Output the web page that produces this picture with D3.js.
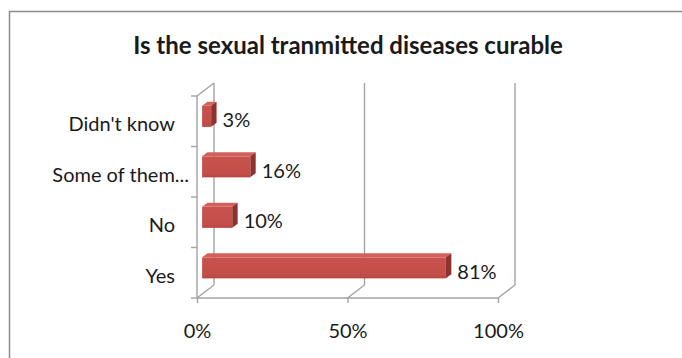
<!DOCTYPE html>
<html>
<head>
<meta charset="utf-8">
<script src="https://cdn.jsdelivr.net/npm/d3@7"></script>
<style>
  html, body { margin: 0; padding: 0; background: #fff; }
  svg { display: block; }
  text { font-family: Lato, "Open Sans", sans-serif; fill: #1a1a1a; }
</style>
</head>
<body>
<svg id="chart" width="682" height="358"></svg>
<script>
// Survey answers, listed top to bottom
const categories = ["Didn't know", "Some of them...", "No", "Yes"];
const values = [3, 16, 10, 81];
const tickValues = [0, 50, 100];
const tickLabels = ["0%", "50%", "100%"];
const title = "Is the sexual tranmitted diseases curable";

const svg = d3.select("#chart");
const fontSize = "20px";

// Frame of the chart area
svg.append("rect")
  .attr("x", 9.5).attr("y", 11.5)
  .attr("width", 700).attr("height", 400)
  .attr("fill", "none").attr("stroke", "#8c8c8c").attr("stroke-width", 1.5);

// Title
svg.append("text")
  .attr("x", 348).attr("y", 44)
  .attr("text-anchor", "middle").attr("dominant-baseline", "central")
  .style("font-weight", "bold").style("font-size", "24px")
  .text(title);

// Front plane scales; the back wall is shifted by the depth vector
const x = d3.scaleLinear().domain([0, 100]).range([197, 498]);
const y = d3.scaleBand().domain(categories).range([96, 298]).padding(0);
const DX = 17, DY = -13;
const gridColor = "#a3a3a3";

const walls = svg.append("g").attr("stroke", gridColor).attr("stroke-width", 1.4).attr("fill", "none");

// Back wall gridlines (including the 0% edge) and floor depth edges
tickValues.forEach(t => {
  walls.append("line")
    .attr("x1", x(t) + DX).attr("x2", x(t) + DX)
    .attr("y1", y.range()[0] + DY).attr("y2", y.range()[1] + DY);
  walls.append("line")
    .attr("x1", x(t)).attr("y1", y.range()[1])
    .attr("x2", x(t) + DX).attr("y2", y.range()[1] + DY);
});
// Top edge of the side wall
walls.append("line")
  .attr("x1", x(0)).attr("y1", y.range()[0])
  .attr("x2", x(0) + DX).attr("y2", y.range()[0] + DY);

// Front category axis
const yAxis = d3.axisLeft(y).tickSize(0).tickFormat("");
const yAxisG = svg.append("g").attr("transform", `translate(${x(0)},0)`).call(yAxis);
yAxisG.select(".domain").attr("stroke", gridColor).attr("stroke-width", 1.4).attr("d", `M0,${y.range()[0]}V${y.range()[1]}`);

// Category boundary ticks
const bounds = categories.map(c => y(c)).concat([y.range()[1]]);
svg.append("g").selectAll("line").data(bounds).join("line")
  .attr("x1", x(0) - 6).attr("x2", x(0))
  .attr("y1", d => d).attr("y2", d => d)
  .attr("stroke", gridColor).attr("stroke-width", 1.4);

// Front value axis
const xAxis = d3.axisBottom(x).tickValues(tickValues).tickSize(5).tickFormat((d, i) => tickLabels[i]);
const xAxisG = svg.append("g").attr("transform", `translate(0,${y.range()[1]})`).call(xAxis);
xAxisG.select(".domain").attr("stroke", gridColor).attr("stroke-width", 1.4).attr("d", `M${x(0)},0H${x(100)}`);
xAxisG.selectAll(".tick line").attr("stroke", gridColor).attr("stroke-width", 1.4);
xAxisG.selectAll(".tick text")
  .attr("y", 33).attr("dy", "0.35em")
  .style("font-size", fontSize).style("font-family", "Lato, sans-serif").attr("fill", "#1a1a1a");

// Category labels
svg.append("g").selectAll("text").data(categories).join("text")
  .attr("x", d => d.endsWith("...") ? x(0) - 8 : x(0) - 22)
  .attr("y", d => y(d) + y.bandwidth() / 2 + 2)
  .attr("text-anchor", "end").attr("dominant-baseline", "central")
  .style("font-size", fontSize)
  .style("font-variant-ligatures", "none")
  .text(d => d);

// 3D bars: front face, top face and right side
const f0 = 0.3, f1 = 0.62;
const faceH = 21;
const sdx = DX * (f1 - f0), sdy = DY * (f1 - f0);
const rows = categories.map((c, i) => {
  const cy = y(c) + y.bandwidth() / 2 + DY * f0 - 1;
  return { c, v: values[i], x0: x(0) + DX * f0, x1: x(values[i]) + DX * f0, y0: cy - faceH / 2, y1: cy + faceH / 2 };
});

const defs = svg.append("defs");
const grad = defs.append("linearGradient").attr("id", "front").attr("x1", 0).attr("y1", 0).attr("x2", 0).attr("y2", 1);
grad.append("stop").attr("offset", "0%").attr("stop-color", "#c9524e");
grad.append("stop").attr("offset", "85%").attr("stop-color", "#c24e4a");
grad.append("stop").attr("offset", "100%").attr("stop-color", "#b5443f");

const bars = svg.append("g").selectAll("g").data(rows).join("g");
bars.append("polygon")
  .attr("points", d => [[d.x0, d.y0], [d.x1, d.y0], [d.x1 + sdx, d.y0 + sdy], [d.x0 + sdx, d.y0 + sdy]].join(" "))
  .attr("fill", "#d2605b");
bars.append("polygon")
  .attr("points", d => [[d.x1, d.y0], [d.x1 + sdx, d.y0 + sdy], [d.x1 + sdx, d.y1 + sdy], [d.x1, d.y1]].join(" "))
  .attr("fill", "#8d322f");
bars.append("rect")
  .attr("x", d => d.x0).attr("y", d => d.y0)
  .attr("width", d => d.x1 - d.x0).attr("height", faceH)
  .attr("fill", "url(#front)");

// Value labels
bars.append("text")
  .attr("x", d => d.x1 + sdx + 6)
  .attr("y", d => y(d.c) + y.bandwidth() / 2 - 2)
  .attr("dominant-baseline", "central")
  .style("font-size", fontSize)
  .text(d => d.v + "%");
</script>
</body>
</html>
